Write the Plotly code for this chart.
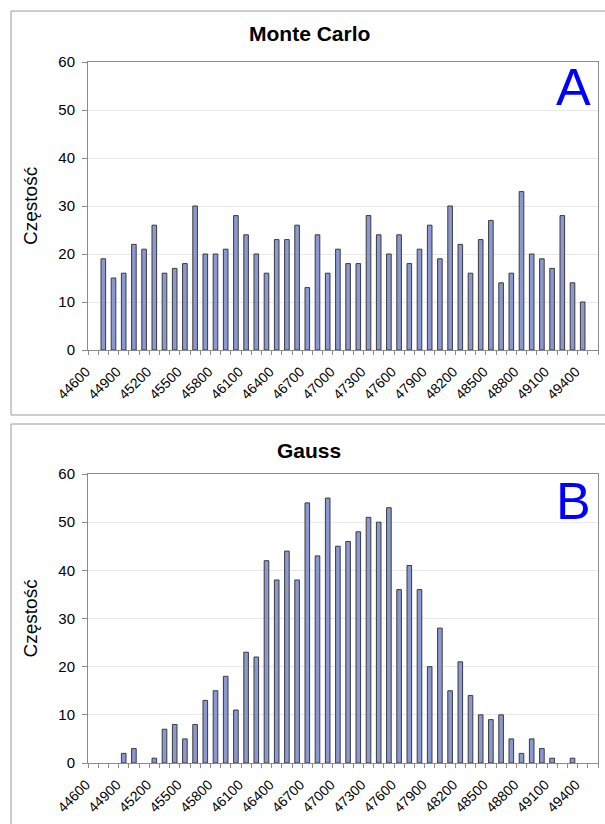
import plotly.graph_objects as go

# ---- data ----
bins = list(range(44600, 49600, 100))  # 50 categories
tick_labels = [str(v) for v in range(44600, 49500, 300)]

monte_carlo = [0,
               19, 15, 16, 22, 21, 26, 16, 17, 18, 30, 20, 20, 21, 28, 24, 20,
               16, 23, 23, 26, 13, 24, 16, 21, 18, 18, 28, 24, 20, 24, 18, 21,
               26, 19, 30, 22, 16, 23, 27, 14, 16, 33, 20, 19, 17, 28, 14, 10,
               0]
gauss = [0, 0, 0, 2, 3, 0, 1, 7, 8, 5, 8, 13, 15, 18, 11, 23, 22, 42, 38, 44,
         38, 54, 43, 55, 45, 46, 48, 51, 50, 53, 36, 41, 36, 20, 28, 15, 21,
         14, 10, 9, 10, 5, 2, 5, 3, 1, 0, 1, 0, 0]

titles = ["Monte Carlo", "Gauss"]
letters = ["A", "B"]
y_title = "Częstość"

W, H = 605, 824
FONT = "Arial, Liberation Sans, sans-serif"
BAR_FILL = "#8C98D0"
BAR_LINE = "#3A3A3A"
GRID = "#E8E8E8"
AXIS = "#8C8C8C"

def px_x(p):
    return p / W

def px_y(p):
    return 1 - p / H

fig = go.Figure()

panels = [
    dict(data=monte_carlo, box=(11, 11, 415), top=62, bottom=350, title_y=33, letter_y=87),
    dict(data=gauss, box=(11, 424, 840), top=474, bottom=763, title_y=450, letter_y=501),
]

shapes = []
annotations = []
for i, p in enumerate(panels):
    xa = "x" if i == 0 else "x2"
    ya = "y" if i == 0 else "y2"
    fig.add_trace(go.Bar(
        x=bins, y=p["data"], width=45,
        marker=dict(color=BAR_FILL,
                    line=dict(color=BAR_LINE, width=[1 if v > 0 else 0 for v in p["data"]])),
        xaxis=xa, yaxis=ya, showlegend=False, hoverinfo="x+y",
    ))
    axis_suffix = "" if i == 0 else "2"
    fig.layout["xaxis" + axis_suffix] = dict(
        domain=[px_x(88), px_x(598)],
        anchor=ya,
        range=[44550, 49550],
        tickmode="array",
        tickvals=[int(t) for t in tick_labels],
        ticktext=tick_labels,
        tickangle=-45,
        ticks="",
        ticklabelstandoff=7,
        ticklabelshift=-7,
        tickfont=dict(family=FONT, size=14, color="#000000"),
        showgrid=False,
        showline=True, linecolor=AXIS, linewidth=1, mirror=True,
        zeroline=False,
        automargin=False,
        minor=dict(ticks="outside", tickmode="linear", tick0=44550, dtick=100,
                   ticklen=4, tickcolor=AXIS, showgrid=False),
        fixedrange=True,
    )
    fig.layout["yaxis" + axis_suffix] = dict(
        domain=[px_y(p["bottom"]), px_y(p["top"])],
        anchor=xa,
        range=[0, 60],
        dtick=10,
        ticks="outside", ticklen=5, tickcolor=AXIS,
        ticklabelstandoff=4,
        tickfont=dict(family=FONT, size=15, color="#000000"),
        showgrid=True, gridcolor=GRID, gridwidth=1,
        showline=True, linecolor=AXIS, linewidth=1, mirror=True,
        zeroline=False,
        automargin=False,
        fixedrange=True,
    )
    bx0, by0, by1 = p["box"]
    shapes.append(dict(type="rect", xref="paper", yref="paper",
                       x0=px_x(bx0), x1=px_x(W + 10), y0=px_y(by1), y1=px_y(by0),
                       line=dict(color="#9A9A9A", width=1), fillcolor="rgba(0,0,0,0)",
                       layer="below"))
    annotations.append(dict(text="<b>%s</b>" % titles[i], xref="paper", yref="paper",
                            x=px_x(309), y=px_y(p["title_y"]), xanchor="center", yanchor="middle",
                            showarrow=False, font=dict(family=FONT, size=21, color="#000000")))
    annotations.append(dict(text=letters[i], xref="paper", yref="paper",
                            x=px_x(573), y=px_y(p["letter_y"]), xanchor="center", yanchor="middle",
                            showarrow=False, font=dict(family=FONT, size=52, color="#0000FF")))
    annotations.append(dict(text=y_title, xref="paper", yref="paper",
                            x=px_x(30), y=px_y((p["top"] + p["bottom"]) / 2),
                            xanchor="center", yanchor="middle", textangle=-90,
                            showarrow=False, font=dict(family=FONT, size=19, color="#000000")))

fig.update_layout(
    width=W, height=H, autosize=False,
    margin=dict(l=0, r=0, t=0, b=0, autoexpand=False),
    paper_bgcolor="white", plot_bgcolor="white",
    bargap=0.55,
    shapes=shapes, annotations=annotations,
)

fig.write_html("out.html",
               config={"displayModeBar": False},
               post_script="document.body.style.margin='0';document.body.style.overflow='hidden';")
